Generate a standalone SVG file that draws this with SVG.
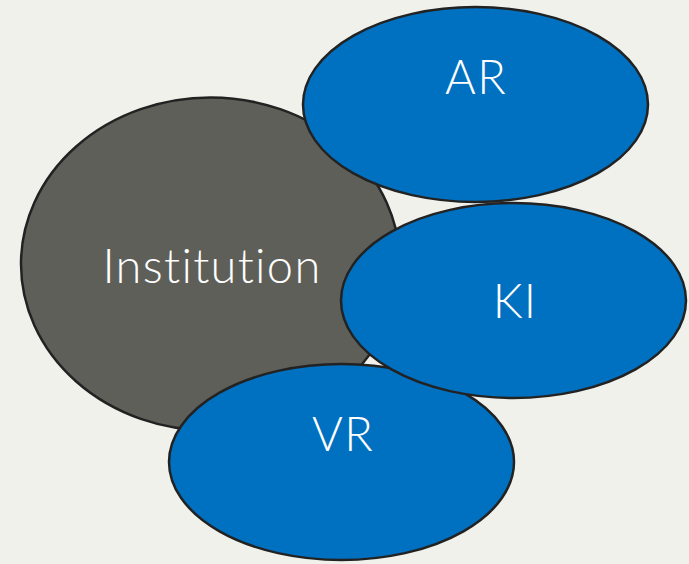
<svg xmlns="http://www.w3.org/2000/svg" width="689" height="564" viewBox="0 0 689 564">
<style>
.n{stroke:#222;stroke-width:2.5}
.g{fill:#5f5f59}
.b{fill:#0070c0}
text{font-family:Lato,"Open Sans","Liberation Sans",sans-serif;font-weight:300;fill:#fff;text-anchor:middle;font-size:47px;letter-spacing:1.3px}
</style>
<rect width="689" height="564" fill="#f1f1ec"/>
<g id="institution"><ellipse class="n g" cx="210.5" cy="264" rx="189.5" ry="166.5"/><text x="212" y="283">Institution</text></g>
<g id="vr"><ellipse class="n b" cx="341.5" cy="462" rx="172.5" ry="98"/><text x="343" y="451">VR</text></g>
<g id="ar"><ellipse class="n b" cx="475.5" cy="104.5" rx="172.5" ry="97.5"/><text x="476" y="94">AR</text></g>
<g id="ki"><ellipse class="n b" cx="513.5" cy="300.5" rx="172.5" ry="97.5"/><text x="515" y="318">KI</text></g>
<g id="connectors"/>
</svg>
